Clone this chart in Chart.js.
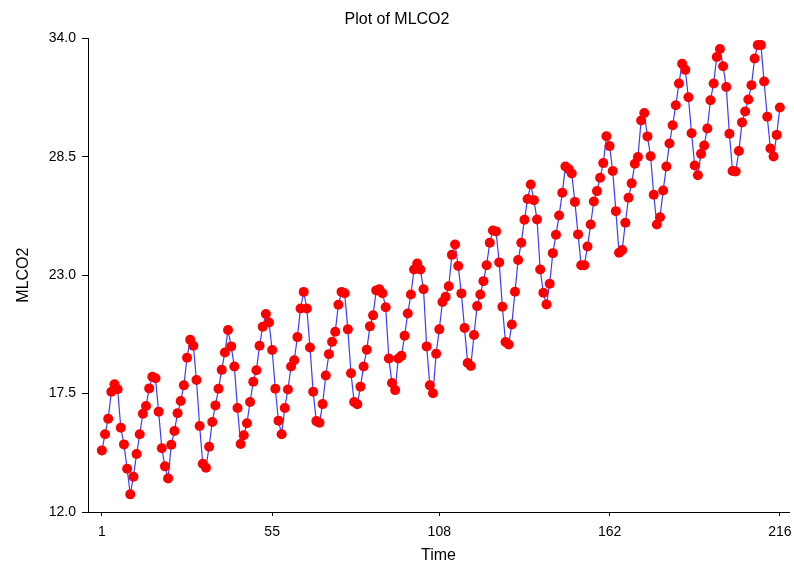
<!DOCTYPE html>
<html>
<head>
<meta charset="utf-8">
<script src="https://cdn.jsdelivr.net/npm/chart.js@4/dist/chart.umd.min.js"></script>
<style>
  html, body { margin: 0; padding: 0; background: #fff; }
  #mlcoChart { display: block; }
</style>
</head>
<body>
<canvas id="mlcoChart" width="794" height="564"></canvas>
<script>
// Monthly MLCO2 values, 216 observations
const mlco2 = [
  14.86, 15.61, 16.33, 17.58, 17.93, 17.70, 15.91, 15.14, 14.01, 12.82, 13.64, 14.69,
  15.61, 16.56, 16.92, 17.74, 18.28, 18.21, 16.66, 14.96, 14.12, 13.56, 15.12, 15.76,
  16.59, 17.15, 17.88, 19.16, 20.00, 19.72, 18.13, 15.99, 14.24, 14.06, 15.03, 16.18,
  16.95, 17.72, 18.60, 19.41, 20.45, 19.69, 18.76, 16.83, 15.16, 15.56, 16.12, 17.11,
  18.05, 18.58, 19.72, 20.60, 21.19, 20.80, 19.52, 17.72, 16.24, 15.61, 16.83, 17.69,
  18.76, 19.05, 20.12, 21.45, 22.22, 21.45, 19.64, 17.58, 16.22, 16.14, 17.01, 18.34,
  19.33, 19.90, 20.37, 21.62, 22.22, 22.16, 20.48, 18.44, 17.11, 17.00, 17.82, 18.76,
  19.53, 20.62, 21.13, 22.29, 22.34, 22.16, 21.51, 19.13, 17.99, 17.66, 19.13, 19.25,
  20.18, 21.22, 22.10, 23.26, 23.54, 23.26, 22.34, 19.69, 17.88, 17.51, 19.35, 20.48,
  21.75, 21.99, 22.48, 23.94, 24.42, 23.42, 22.15, 20.54, 18.92, 18.78, 20.22, 21.56,
  22.10, 22.72, 23.46, 24.50, 25.07, 25.03, 23.59, 21.53, 19.89, 19.78, 20.71, 22.23,
  23.70, 24.50, 25.57, 26.53, 27.21, 26.48, 25.58, 23.26, 22.18, 21.64, 22.60, 24.02,
  24.87, 25.77, 26.82, 28.04, 27.93, 27.72, 26.40, 24.89, 23.46, 23.46, 24.33, 25.35,
  26.42, 26.90, 27.52, 28.20, 29.45, 28.99, 27.83, 25.97, 24.04, 24.16, 25.43, 26.59,
  27.26, 28.17, 28.48, 30.18, 30.53, 29.44, 28.52, 26.73, 25.35, 25.69, 26.93, 28.04,
  29.11, 29.96, 30.89, 31.90, 32.81, 32.53, 31.26, 29.59, 28.09, 27.64, 28.63, 29.02,
  29.81, 31.12, 31.90, 33.13, 33.50, 32.70, 31.73, 29.56, 27.83, 27.81, 28.76, 30.09,
  30.60, 31.15, 31.82, 33.06, 33.68, 33.68, 31.99, 30.35, 28.88, 28.51, 29.51, 30.78
];

// time index 1..216
const time = mlco2.map((v, i) => i + 1);

const xTicks = [1, 55, 108, 162, 216];
const yTicks = [12.0, 17.5, 23.0, 28.5, 34.0];

const FONT = "'Liberation Sans', Arial, sans-serif";

const points = time.map((t, i) => ({ x: t, y: mlco2[i] }));

const canvas = document.querySelector('#mlcoChart');

const config = {
  type: 'line',
  data: {
    datasets: [{
      label: 'MLCO2',
      data: points,
      borderColor: '#3c3cff',
      borderWidth: 1.2,
      pointRadius: 5,
      pointHoverRadius: 5,
      pointBackgroundColor: '#ff0000',
      pointBorderWidth: 0,
      tension: 0,
      fill: false
    }]
  },
  options: {
    responsive: false,
    animation: false,
    layout: { padding: { left: 4, right: 4, top: 0, bottom: 0 } },
    plugins: {
      legend: { display: false },
      tooltip: { enabled: false },
      title: {
        display: true,
        text: 'Plot of MLCO2',
        color: '#000',
        font: { family: FONT, size: 16, weight: 'normal' },
        padding: { top: 10, bottom: 9 }
      }
    },
    scales: {
      x: {
        type: 'linear',
        min: -3.4,
        max: 218.9,
        afterBuildTicks: (scale) => {
          scale.ticks = xTicks.map(v => ({ value: v }));
        },
        afterFit: (scale) => {
          scale.height = 52;
          scale.paddingLeft = 0;
          scale.paddingRight = 0;
        },
        ticks: {
          color: '#000',
          font: { family: FONT, size: 14 },
          padding: 8,
          maxRotation: 0,
          autoSkip: false,
          callback: (v) => String(v)
        },
        grid: {
          drawOnChartArea: false,
          drawTicks: true,
          tickLength: 4,
          color: '#000'
        },
        border: { display: true, color: '#000', width: 1 },
        title: {
          display: true,
          text: 'Time',
          color: '#000',
          font: { family: FONT, size: 16, lineHeight: 1 },
          padding: { top: 0, bottom: 0 }
        }
      },
      y: {
        min: 12,
        max: 34,
        afterBuildTicks: (scale) => {
          scale.ticks = yTicks.map(v => ({ value: v }));
        },
        afterFit: (scale) => {
          scale.width = 84;
          scale.paddingTop = 0;
          scale.paddingBottom = 0;
        },
        ticks: {
          color: '#000',
          font: { family: FONT, size: 14 },
          padding: 6,
          callback: (v) => Number(v).toFixed(1)
        },
        grid: {
          drawOnChartArea: false,
          drawTicks: true,
          tickLength: 6,
          color: '#000'
        },
        border: { display: true, color: '#000', width: 1 },
        title: {
          display: true,
          text: 'MLCO2',
          color: '#000',
          font: { family: FONT, size: 16 },
          padding: { top: 10, bottom: 0 }
        }
      }
    }
  }
};

if (canvas) {
  new Chart(canvas, config);
} else {
  console.error('canvas #mlcoChart not found');
}
</script>
</body>
</html>
